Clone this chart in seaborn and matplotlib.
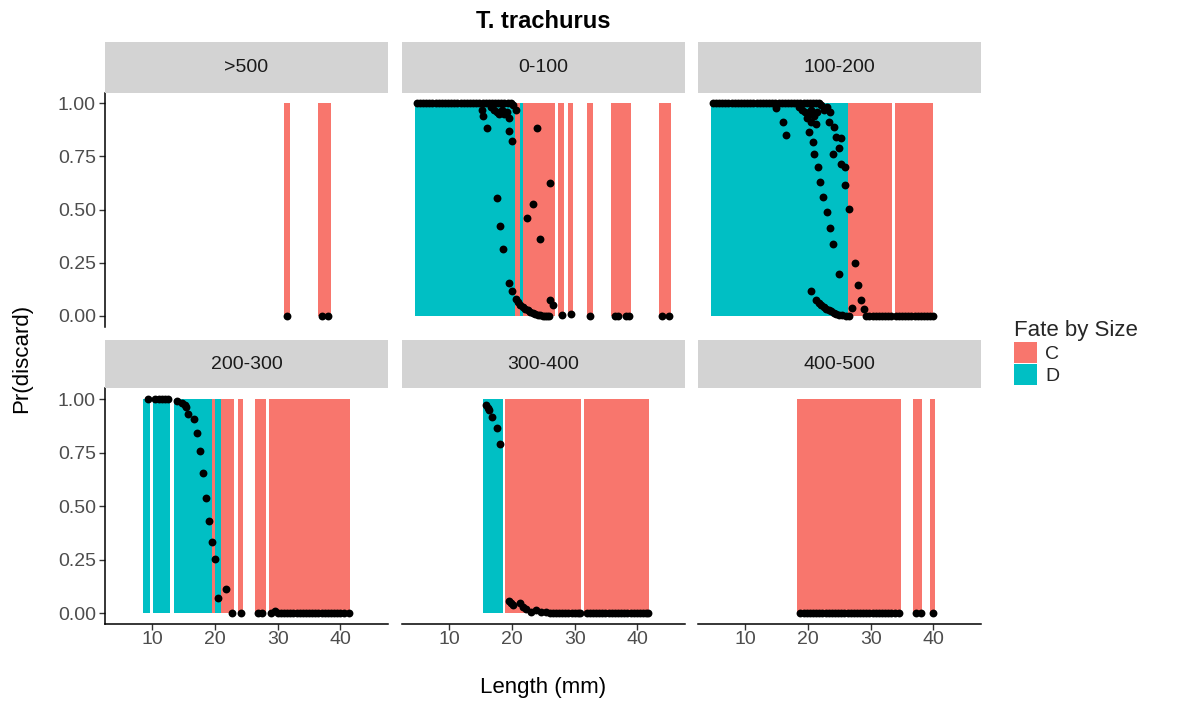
import matplotlib
matplotlib.use("Agg")
import matplotlib.pyplot as plt
from matplotlib.patches import Patch
import pandas as pd
import seaborn as sns

sns.set_theme(style="white")
plt.rcParams["font.family"] = ["Liberation Sans", "DejaVu Sans"]

# ---- data -----------------------------------------------------------------
panels = [">500", "0-100", "100-200", "200-300", "300-400", "400-500"]
fate_colors = {"C": "#F8766D", "D": "#00BFC4"}

# fate blocks per size class: (start length, end length, fate)
seg_gt500 = [(31.0, 32.0, "C"), (36.5, 38.5, "C")]
seg_0_100 = [(4.5, 20.4, "D"), (20.4, 21.3, "C"), (21.3, 21.8, "D"),
             (21.8, 26.9, "C"), (27.4, 28.3, "C"), (28.9, 29.8, "C"),
             (31.9, 32.9, "C"), (35.8, 38.9, "C"), (43.5, 45.4, "C")]
seg_100_200 = [(4.5, 26.4, "D"), (26.4, 33.4, "C"), (33.9, 39.9, "C")]
seg_200_300 = [(8.5, 9.6, "D"), (10.1, 12.9, "D"), (13.5, 19.5, "D"),
               (19.5, 20.0, "C"), (20.0, 20.9, "D"), (20.9, 23.0, "C"),
               (23.6, 24.5, "C"), (26.4, 28.1, "C"), (28.6, 41.6, "C")]
seg_300_400 = [(15.3, 18.5, "D"), (18.9, 31.0, "C"), (31.5, 41.8, "C")]
seg_400_500 = [(18.3, 34.9, "C"), (36.8, 38.2, "C"), (39.4, 40.3, "C")]

# predicted probability of discard at length
len_gt500 = [31.5, 37.0, 38.0]
pr_gt500 = [0.0, 0.0, 0.0]

len_0_100 = [4.8, 5.3, 5.8, 6.3, 6.8, 7.3, 7.8, 8.3, 8.8, 9.3, 9.8, 10.3, 10.8,
             11.3, 11.8, 12.3, 12.8, 13.3, 13.8, 14.3, 14.8, 15.3, 15.8, 16.3,
             16.8, 17.3, 17.8, 18.3, 18.8, 19.3, 19.8,
             15.2, 15.4, 16.0, 16.6, 17.2, 17.6, 18.0, 18.4, 18.8, 19.2, 19.6,
             19.57, 20.05, 20.2, 20.6,
             17.6, 18.1, 18.56, 19.57, 20.05, 20.6, 20.9, 21.3, 21.7, 22.1,
             22.5, 22.9, 23.3, 23.7, 24.1, 24.5, 24.9, 25.3, 25.6, 25.95,
             24.0, 23.4, 22.45, 24.5, 26.06, 26.06, 26.5, 27.9, 29.36, 32.4,
             36.4, 36.96, 38.2, 38.7, 43.97, 45.1]
pr_0_100 = [1.0, 1.0, 1.0, 1.0, 1.0, 1.0, 1.0, 1.0, 1.0, 1.0, 1.0, 1.0, 1.0,
            1.0, 1.0, 1.0, 1.0, 1.0, 1.0, 1.0, 1.0, 1.0, 1.0, 1.0,
            1.0, 1.0, 1.0, 1.0, 1.0, 1.0, 1.0,
            0.97, 0.94, 0.885, 0.98, 0.97, 0.96, 0.95, 0.97, 0.95, 0.96, 0.93,
            0.87, 0.82, 0.99, 0.97,
            0.553, 0.425, 0.313, 0.157, 0.116, 0.081, 0.065, 0.053, 0.043,
            0.034, 0.026, 0.019, 0.013, 0.008, 0.005, 0.003, 0.001, 0.0, 0.0,
            0.0,
            0.885, 0.525, 0.46, 0.363, 0.625, 0.074, 0.05, 0.006, 0.011, 0.0,
            0.0, 0.0, 0.0, 0.0, 0.0, 0.0]

len_100_200 = [4.8, 5.3, 5.8, 6.3, 6.8, 7.3, 7.8, 8.3, 8.8, 9.3, 9.8, 10.3,
               10.8, 11.3, 11.8, 12.3, 12.8, 13.3, 13.8, 14.3, 14.8, 15.3,
               15.8, 16.3, 16.8, 17.3, 17.8, 18.3, 18.8, 19.3, 19.8, 20.3,
               20.8, 21.3, 21.8,
               14.9, 18.5, 19.0, 19.5, 20.0, 20.5, 21.0, 21.5, 22.0, 22.5,
               23.0, 23.5, 19.8, 20.4, 21.2,
               16.0, 16.5,
               20.2, 20.75, 21.0, 21.55, 21.97, 22.45, 22.97, 23.45, 23.93,
               24.88,
               23.4, 24.2, 24.47, 25.3, 24.9, 23.93, 25.26, 25.95, 25.95, 26.6,
               27.5, 27.98, 28.5, 28.97, 27.0,
               20.54, 21.3, 21.7, 22.1, 22.5, 22.9, 23.3, 23.7, 24.1, 24.47,
               25.0, 25.5, 26.0, 26.6,
               29.3, 29.8, 30.3, 30.8, 31.3, 31.8, 32.3, 32.8, 33.3, 34.0,
               34.5, 35.0, 35.5, 36.0, 36.5, 37.0, 37.5, 38.0, 38.5, 39.0,
               39.5, 40.0]
pr_100_200 = [1.0, 1.0, 1.0, 1.0, 1.0, 1.0, 1.0, 1.0, 1.0, 1.0, 1.0, 1.0,
              1.0, 1.0, 1.0, 1.0, 1.0, 1.0, 1.0, 1.0, 1.0, 1.0,
              1.0, 1.0, 1.0, 1.0, 1.0, 1.0, 1.0, 1.0, 1.0, 1.0,
              1.0, 1.0, 1.0,
              0.976, 0.98, 0.97, 0.96, 0.95, 0.97, 0.94, 0.96, 0.99, 0.97,
              0.98, 0.96, 0.93, 0.91, 0.90,
              0.912, 0.85,
              0.865, 0.818, 0.763, 0.70, 0.63, 0.56, 0.49, 0.414, 0.34,
              0.199,
              0.912, 0.889, 0.84, 0.834, 0.787, 0.763, 0.716, 0.70, 0.617,
              0.504, 0.25, 0.144, 0.074, 0.031, 0.038,
              0.116, 0.074, 0.06, 0.05, 0.042, 0.034, 0.027, 0.022, 0.016,
              0.011, 0.006, 0.003, 0.001, 0.0,
              0.0, 0.0, 0.0, 0.0, 0.0, 0.0, 0.0, 0.0, 0.0, 0.0,
              0.0, 0.0, 0.0, 0.0, 0.0, 0.0, 0.0, 0.0, 0.0, 0.0,
              0.0, 0.0]

len_200_300 = [9.27, 10.5, 11.0, 11.5, 12.0, 12.5, 14.0, 14.7, 15.2, 15.4,
               15.75, 16.7, 17.08, 17.6, 18.13, 18.56, 19.04, 19.57, 20.0,
               21.7, 20.5, 22.66, 24.15, 26.9, 27.45,
               29.0, 29.5, 30.0, 30.5, 31.0, 31.5, 32.0, 32.5, 33.0, 33.5,
               34.0, 34.5, 35.0, 35.5, 36.0, 36.5, 37.0, 37.5, 38.0, 38.5,
               39.0, 39.5, 40.0, 40.5, 41.3]
pr_200_300 = [1.0, 1.0, 1.0, 1.0, 1.0, 1.0, 0.99, 0.983, 0.972, 0.961,
              0.929, 0.905, 0.843, 0.759, 0.653, 0.537, 0.431, 0.331, 0.253,
              0.113, 0.073, 0.003, 0.0, 0.0, 0.0,
              0.0, 0.01, 0.0, 0.0, 0.0, 0.0, 0.0, 0.0, 0.0, 0.0,
              0.0, 0.0, 0.0, 0.0, 0.0, 0.0, 0.0, 0.0, 0.0, 0.0,
              0.0, 0.0, 0.0, 0.0, 0.0]

len_300_400 = [15.85, 16.2, 16.4, 16.86, 17.6, 18.09,
               19.57, 19.9, 20.2, 21.3, 21.8, 22.3, 23.1, 23.9, 24.7, 25.5,
               26.0, 26.5, 27.0, 27.5, 28.0, 28.5, 29.0, 29.5, 30.0, 30.5,
               30.8,
               31.9, 32.4, 32.9, 33.4, 33.9, 34.4, 34.9, 35.4, 35.9, 36.4,
               36.9, 37.4, 37.9, 38.4, 38.9, 39.4, 39.9, 40.4, 40.9, 41.4,
               41.7]
pr_300_400 = [0.972, 0.957, 0.949, 0.915, 0.863, 0.79,
              0.059, 0.048, 0.039, 0.047, 0.031, 0.02, 0.008, 0.015, 0.008,
              0.004, 0.003, 0.003, 0.003, 0.003, 0.003, 0.003, 0.003, 0.003,
              0.003, 0.003, 0.003,
              0.0, 0.0, 0.0, 0.0, 0.0, 0.0, 0.0, 0.0, 0.0, 0.0,
              0.0, 0.0, 0.0, 0.0, 0.0, 0.0, 0.0, 0.0, 0.0, 0.0,
              0.0]

len_400_500 = [18.8, 19.3, 19.8, 20.3, 20.8, 21.3, 21.8, 22.3, 22.8, 23.3,
               23.8, 24.3, 24.8, 25.3, 25.8, 26.3, 26.8, 27.3, 27.8, 28.3,
               28.8, 29.3, 29.8, 30.3, 30.8, 31.3, 31.8, 32.3, 32.8, 33.3,
               33.8, 34.5, 37.2, 38.0, 39.9]
pr_400_500 = [0.0] * len(len_400_500)

segments = {">500": seg_gt500, "0-100": seg_0_100, "100-200": seg_100_200,
            "200-300": seg_200_300, "300-400": seg_300_400,
            "400-500": seg_400_500}
points = pd.concat([
    pd.DataFrame({"size": p, "Length": l, "Pr": pr})
    for p, l, pr in [(">500", len_gt500, pr_gt500),
                     ("0-100", len_0_100, pr_0_100),
                     ("100-200", len_100_200, pr_100_200),
                     ("200-300", len_200_300, pr_200_300),
                     ("300-400", len_300_400, pr_300_400),
                     ("400-500", len_400_500, pr_400_500)]
], ignore_index=True)

x_ticks = [10, 20, 30, 40]
y_ticks = [0.0, 0.25, 0.5, 0.75, 1.0]
y_labels = ["0.00", "0.25", "0.50", "0.75", "1.00"]

# ---- layout (figure pixels) ----------------------------------------------
W, H = 1181, 704
fig = plt.figure(figsize=(W / 100, H / 100), dpi=100)
fig.patch.set_facecolor("white")

cols = [(105, 388), (402, 685), (698, 981)]
rows = [(92.5, 326.6, 42.0), (388.3, 624.0, 340.0)]  # panel top, bottom, strip top

def fig_box(x0, x1, y0, y1):
    return [x0 / W, 1 - y1 / H, (x1 - x0) / W, (y1 - y0) / H]

txt_grey = "#4D4D4D"
for i, name in enumerate(panels):
    r, c = divmod(i, 3)
    x0, x1 = cols[c]
    ptop, pbot, stop = rows[r]
    ax = fig.add_axes(fig_box(x0, x1, ptop, pbot))
    for (a, b, f) in segments[name]:
        ax.bar(a, 1.0, width=b - a, align="edge", color=fate_colors[f],
               linewidth=0, zorder=1)
    sub = points[points["size"] == name]
    sns.scatterplot(data=sub, x="Length", y="Pr", ax=ax, color="black",
                    s=32, linewidth=0, legend=False, zorder=3, clip_on=False)
    ax.set_xlim(2.456, 47.59)
    ax.set_ylim(-0.05, 1.05)
    ax.set_xlabel("")
    ax.set_ylabel("")
    ax.set_facecolor("white")
    for sp in ax.spines.values():
        sp.set_visible(False)
    ax.set_xticks(x_ticks)
    ax.set_yticks(y_ticks)
    if r == 1:
        ax.spines["bottom"].set_visible(True)
        ax.spines["bottom"].set_color("black")
        ax.spines["bottom"].set_linewidth(1.1)
        ax.set_xticklabels([str(t) for t in x_ticks], fontsize=14,
                           color=txt_grey)
        ax.tick_params(axis="x", length=4.5, width=1.0, color="#333333",
                       pad=0.5, bottom=True)
    else:
        ax.tick_params(axis="x", bottom=False, labelbottom=False)
    if c == 0:
        ax.spines["left"].set_visible(True)
        ax.spines["left"].set_color("black")
        ax.spines["left"].set_linewidth(1.1)
        ax.set_yticklabels(y_labels, fontsize=14, color=txt_grey)
        ax.tick_params(axis="y", length=4.5, width=1.0, color="#333333",
                       pad=2, left=True)
    else:
        ax.tick_params(axis="y", left=False, labelleft=False)
    ax.grid(False)

    # facet strip
    sax = fig.add_axes(fig_box(x0, x1, stop, ptop))
    sax.set_facecolor("#D3D3D3")
    sax.set_xticks([])
    sax.set_yticks([])
    for sp in sax.spines.values():
        sp.set_visible(False)
    sax.text(0.5, 0.5, name, ha="center", va="center", fontsize=14,
             color="#1A1A1A", transform=sax.transAxes)

fig.text(543 / W, 1 - 22 / H, "T. trachurus", ha="center", va="center",
         fontsize=17, fontweight="bold", color="black")
fig.text(543 / W, 1 - 687 / H, "Length (mm)", ha="center", va="center",
         fontsize=16, color="black")
fig.text(22 / W, 1 - 358 / H, "Pr(discard)", ha="center", va="center",
         fontsize=16, color="black", rotation=90)

handles = [Patch(facecolor=fate_colors[k], edgecolor="none") for k in ["C", "D"]]
leg = fig.legend(handles, ["C", "D"], title="Fate by Size", loc="upper left",
                 bbox_to_anchor=(1006 / W, 1 - 312 / H), frameon=False,
                 fontsize=14, title_fontsize=16, handlelength=1.2,
                 handleheight=1.3, handletextpad=0.4, labelspacing=0.05,
                 alignment="left", borderaxespad=0)

fig.savefig("out.png", dpi=100, facecolor="white")
